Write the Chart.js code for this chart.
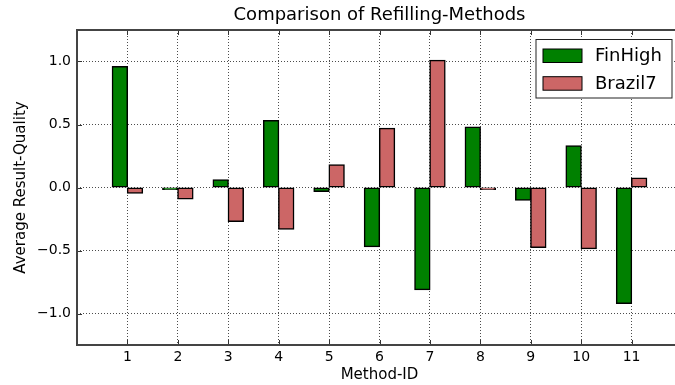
<!DOCTYPE html>
<html>
<head>
<meta charset="utf-8">
<script src="https://cdn.jsdelivr.net/npm/chart.js@4.4.1/dist/chart.umd.min.js"></script>
<style>
  html, body { margin: 0; padding: 0; background: #fff; overflow: hidden; }
  #wrap { width: 700px; height: 385px; }
</style>
</head>
<body>
<div id="wrap"><canvas id="c" width="700" height="385"></canvas></div>
<script>
const categories = ['1', '2', '3', '4', '5', '6', '7', '8', '9', '10', '11'];
const finHigh = [0.96, -0.005, 0.06, 0.53, -0.03, -0.47, -0.81, 0.48, -0.10, 0.33, -0.92];
const brazil7 = [-0.045, -0.09, -0.27, -0.33, 0.18, 0.47, 1.01, -0.01, -0.475, -0.485, 0.075];
const yTicks = [-1.0, -0.5, 0.0, 0.5, 1.0];
const seriesNames = ['FinHigh', 'Brazil7'];
const seriesColors = ['#008000', '#cc6666'];

const FONT = 'DejaVu Sans';
// padded category list: empty slots at 0 and 12 give the axis range 0..12
const labels = [''].concat(categories, ['']);
const pad = arr => [null].concat(arr, [null]);

const framePlugin = {
  id: 'frame',
  afterDraw(chart) {
    const ctx = chart.ctx;
    const a = chart.chartArea;
    const xs = chart.scales.x, ys = chart.scales.y;
    ctx.save();
    // inward ticks
    ctx.strokeStyle = '#333';
    ctx.lineWidth = 1;
    ctx.beginPath();
    for (let i = 1; i < labels.length - 1; i++) {
      const px = Math.round(xs.getPixelForValue(i)) + 0.5;
      ctx.moveTo(px, a.bottom); ctx.lineTo(px, a.bottom - 5);
      ctx.moveTo(px, a.top); ctx.lineTo(px, a.top + 5);
    }
    yTicks.forEach(v => {
      const py = Math.round(ys.getPixelForValue(v)) + 0.5;
      ctx.moveTo(a.left, py); ctx.lineTo(a.left + 5, py);
      ctx.moveTo(a.right, py); ctx.lineTo(a.right - 5, py);
    });
    ctx.stroke();
    // frame
    ctx.strokeStyle = '#444';
    ctx.lineWidth = 2;
    ctx.strokeRect(a.left, a.top, a.right - a.left, a.bottom - a.top);
    // legend
    const bx = a.right - 146, by = a.top + 9.5, bw = 136, bh = 58.5;
    ctx.fillStyle = '#fff';
    ctx.fillRect(bx, by, bw, bh);
    ctx.strokeStyle = '#222';
    ctx.lineWidth = 1;
    ctx.strokeRect(bx, by, bw, bh);
    ctx.font = '18px "' + FONT + '"';
    ctx.textBaseline = 'middle';
    ctx.textAlign = 'left';
    chart.data.datasets.forEach((ds, i) => {
      const py = by + 9.5 + i * 27.7;
      ctx.fillStyle = ds.backgroundColor;
      ctx.fillRect(bx + 7, py, 39, 13.5);
      ctx.strokeStyle = '#000';
      ctx.strokeRect(bx + 7, py, 39, 13.5);
      ctx.fillStyle = '#000';
      ctx.fillText(ds.label, bx + 59, py + 7.5);
    });
    ctx.restore();
  }
};

new Chart(document.getElementById('c'), {
  type: 'bar',
  data: {
    labels: labels,
    datasets: [
      { label: seriesNames[0], data: pad(finHigh), backgroundColor: seriesColors[0] },
      { label: seriesNames[1], data: pad(brazil7), backgroundColor: seriesColors[1] }
    ]
  },
  options: {
    responsive: false,
    animation: false,
    layout: { padding: { left: 0, top: 0, right: 18, bottom: 0 } },
    datasets: {
      bar: {
        borderColor: '#000',
        borderWidth: 1.5,
        borderSkipped: false,
        inflateAmount: 0.6,
        categoryPercentage: 0.6,
        barPercentage: 1.0,
        minBarLength: 2
      }
    },
    plugins: {
      legend: { display: false },
      tooltip: { enabled: false },
      title: {
        display: true,
        fullSize: false,
        text: 'Comparison of Refilling-Methods',
        color: '#000',
        font: { family: FONT, size: 18, weight: 'normal' },
        padding: { top: 5, bottom: 3.4 }
      }
    },
    scales: {
      x: {
        offset: false,
        afterFit(s) { s.height = 40; },
        grid: {
          offset: false,
          drawTicks: false,
          color: c => (c.index === 0 || c.index === labels.length - 1) ? 'rgba(0,0,0,0)' : 'rgba(0,0,0,0.7)',
          lineWidth: 1,
          borderDash: [1, 2]
        },
        border: { display: false, dash: [1, 2] },
        ticks: {
          color: '#000',
          font: { family: FONT, size: 14 },
          padding: 4,
          autoSkip: false,
          maxRotation: 0
        },
        title: {
          display: true,
          text: 'Method-ID',
          color: '#000',
          font: { family: FONT, size: 15 },
          padding: { top: 0, bottom: 0.5 }
        }
      },
      y: {
        min: -1.25,
        max: 1.25,
        afterFit(s) { s.width = 77; },
        afterBuildTicks(s) { s.ticks = yTicks.map(v => ({ value: v })); },
        grid: {
          drawTicks: false,
          color: 'rgba(0,0,0,0.7)',
          lineWidth: 1,
          borderDash: [1, 2]
        },
        border: { display: false, dash: [1, 2] },
        ticks: {
          color: '#000',
          font: { family: FONT, size: 14 },
          padding: 6,
          callback: v => v.toFixed(1).replace('-', '\u2212')
        },
        title: {
          display: true,
          text: 'Average Result-Quality',
          color: '#000',
          font: { family: FONT, size: 15 },
          padding: { top: 12, bottom: 0 }
        }
      }
    }
  },
  plugins: [framePlugin]
});
</script>
</body>
</html>
